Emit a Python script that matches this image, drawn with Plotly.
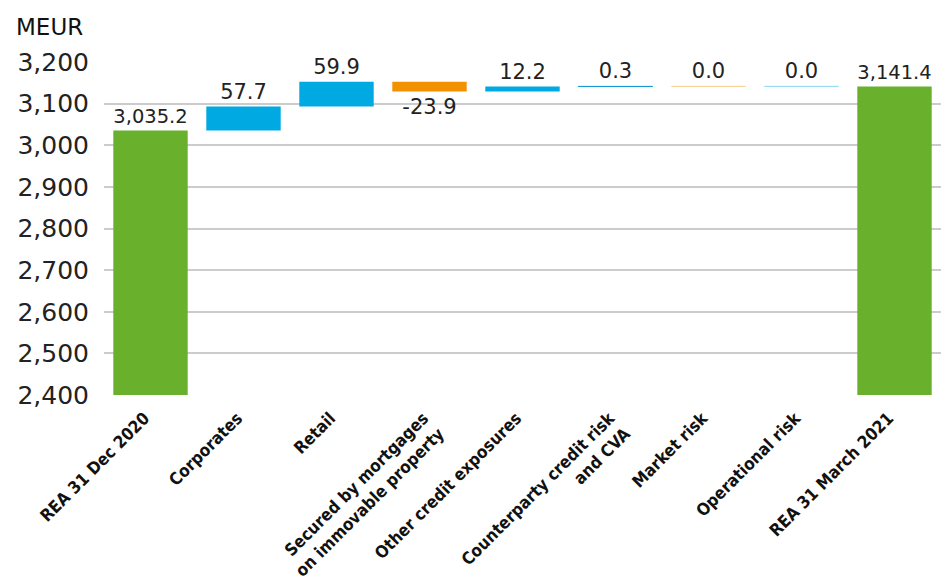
import plotly.graph_objects as go

categories = [
    "REA 31 Dec 2020",
    "Corporates",
    "Retail",
    "Secured by mortgages<br>on immovable property",
    "Other credit exposures",
    "Counterparty credit risk<br>and CVA",
    "Market risk",
    "Operational risk",
    "REA 31 March 2021",
]
start_value = 3035.2
changes = [57.7, 59.9, -23.9, 12.2, 0.3, 0.0, 0.0]
end_value = 3141.4
y_ticks = [2400, 2500, 2600, 2700, 2800, 2900, 3000, 3100, 3200]

GREEN = "#69b02c"
BLUE = "#00a9e2"
ORANGE = "#f39200"

# build waterfall bases
bases = [0]
heights = [start_value]
running = start_value
for c in changes:
    bases.append(running)
    heights.append(c)
    running += c
bases.append(0)
heights.append(end_value)

texts = [f"{start_value:,.1f}"] + [f"{c:,.1f}" for c in changes] + [f"{end_value:,.1f}"]

fill_colors = [GREEN, BLUE, BLUE, ORANGE, BLUE, BLUE,
               "rgba(243,146,0,0.25)", "rgba(0,169,226,0.25)", GREEN]
line_colors = [GREEN, BLUE, BLUE, ORANGE, BLUE, "#1898d5",
               "rgba(243,146,0,0.25)", "rgba(0,169,226,0.25)", GREEN]
line_widths = [0, 0, 0, 0, 0, 1, 1, 1, 0]

fig = go.Figure()
fig.add_trace(go.Bar(
    x=categories,
    y=heights,
    base=bases,
    marker=dict(color=fill_colors, line=dict(color=line_colors, width=line_widths)),
    text=texts,
    textposition="outside",
    textfont=dict(family="DejaVu Sans", size=21, color="#222222"),
    cliponaxis=False,
    width=0.8,
    hoverinfo="skip",
))

# invisible trace for the tick-label axis
fig.add_trace(go.Scatter(x=[categories[0]], y=[2400], yaxis="y2", mode="markers",
                         marker=dict(opacity=0), showlegend=False, hoverinfo="skip"))

fig.update_layout(
    width=941, height=578,
    margin=dict(l=104, r=0, t=62, b=183),
    plot_bgcolor="white", paper_bgcolor="white",
    showlegend=False,
    xaxis=dict(
        tickangle=-45,
        tickfont=dict(family="DejaVu Sans Condensed, sans-serif",
                      size=17, color="#111111", weight="bold"),
        showgrid=False, showline=False, ticks="",
        ticklabelstandoff=9, ticklabelshift=-6,
        automargin=False,
    ),
    yaxis=dict(
        range=[2400, 3200],
        tickvals=y_ticks[:-1],
        showticklabels=False,
        showgrid=True, gridcolor="#cccccc", gridwidth=2,
        zeroline=False, showline=False, ticks="",
        automargin=False,
    ),
    yaxis2=dict(
        range=[2400, 3200],
        overlaying="y",
        side="left",
        tickvals=y_ticks,
        ticktext=[f"{v:,}" for v in y_ticks],
        tickfont=dict(family="DejaVu Sans", size=25, color="#222222"),
        showgrid=False, zeroline=False, showline=False,
        ticks="", ticklabelstandoff=14,
        automargin=False,
    ),
    annotations=[dict(
        text="MEUR", xref="paper", yref="paper", x=0, y=1,
        xanchor="left", yanchor="bottom", xshift=-90, yshift=20,
        showarrow=False,
        font=dict(family="DejaVu Sans", size=23, color="#111111"),
    )],
    bargap=0.2,
)

fig.write_html("out.html")
